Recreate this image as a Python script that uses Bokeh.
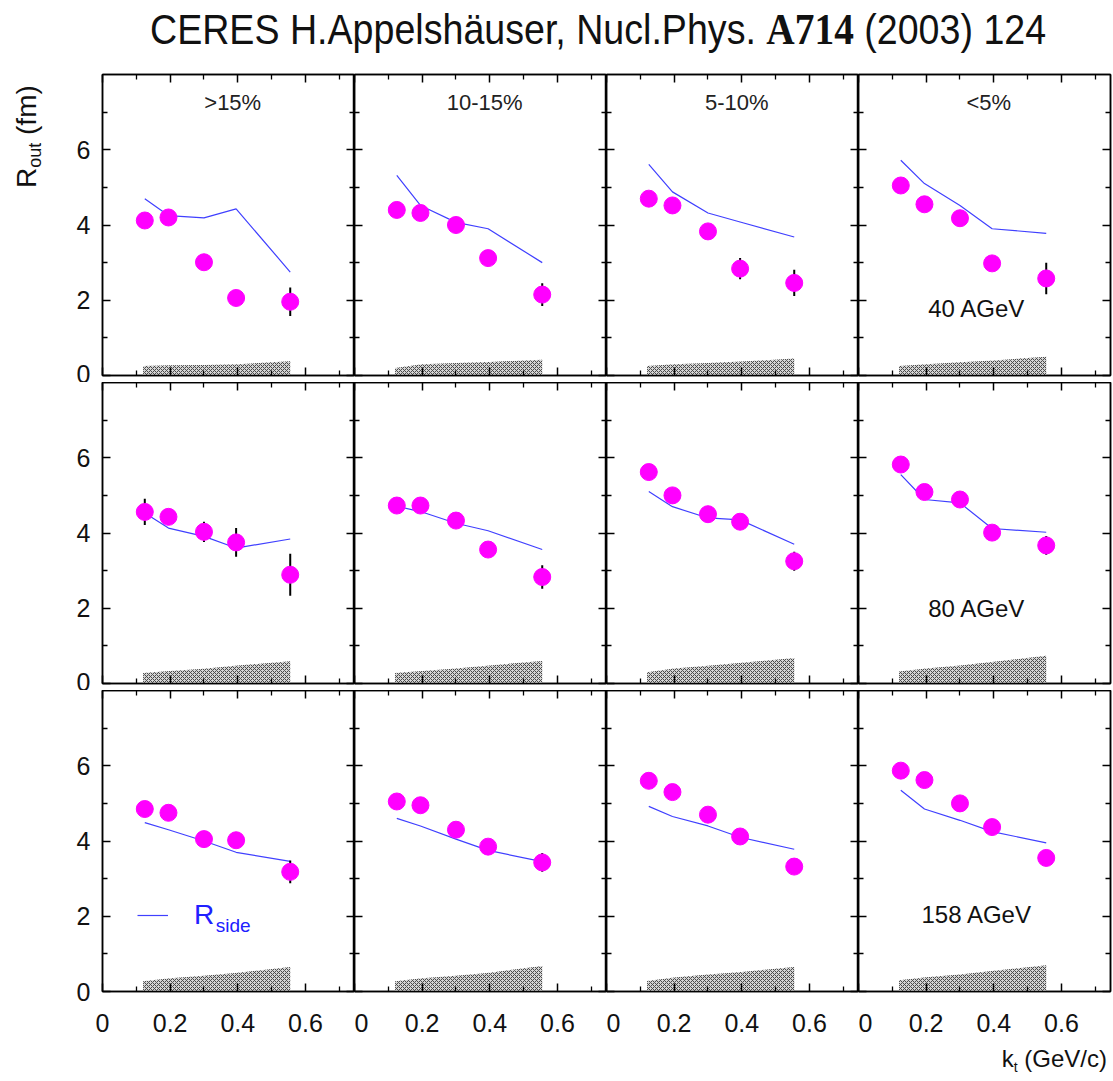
from bokeh.plotting import figure
from bokeh.layouts import gridplot, column, row
from bokeh.models import (Range1d, LinearAxis, FixedTicker, Label, Legend,
                          LegendItem, Div, NumeralTickFormatter,
                          CustomLabelingPolicy)
from bokeh.embed import file_html
from bokeh.resources import INLINE

# ---------------- data ----------------
kt = [0.125, 0.195, 0.300, 0.395, 0.555]           # k_t (GeV/c)
centralities = [">15%", "10-15%", "5-10%", "<5%"]
energies = ["40 AGeV", "80 AGeV", "158 AGeV"]

# R_out data points (fm), one list per centrality bin
rout_40 = [[4.12, 4.20, 3.01, 2.06, 1.96],
           [4.40, 4.32, 4.00, 3.12, 2.15],
           [4.70, 4.52, 3.83, 2.84, 2.46],
           [5.05, 4.55, 4.18, 2.98, 2.58]]
rout_80 = [[4.56, 4.43, 4.03, 3.75, 2.89],
           [4.73, 4.73, 4.33, 3.56, 2.83],
           [5.62, 5.00, 4.50, 4.30, 3.25],
           [5.82, 5.09, 4.89, 4.01, 3.67]]
rout_158 = [[4.85, 4.75, 4.05, 4.02, 3.18],
            [5.05, 4.95, 4.30, 3.85, 3.43],
            [5.60, 5.30, 4.70, 4.12, 3.32],
            [5.87, 5.62, 5.00, 4.37, 3.55]]

# statistical errors on R_out (fm)
err_40 = [[0.15, 0.10, 0.10, 0.15, 0.38],
          [0.12, 0.10, 0.15, 0.20, 0.30],
          [0.10, 0.12, 0.15, 0.28, 0.35],
          [0.12, 0.12, 0.18, 0.20, 0.42]]
err_80 = [[0.35, 0.15, 0.27, 0.38, 0.56],
          [0.12, 0.12, 0.15, 0.15, 0.31],
          [0.12, 0.15, 0.15, 0.18, 0.25],
          [0.15, 0.15, 0.18, 0.15, 0.25]]
err_158 = [[0.12, 0.12, 0.12, 0.15, 0.30],
           [0.10, 0.10, 0.12, 0.12, 0.25],
           [0.10, 0.10, 0.12, 0.12, 0.20],
           [0.10, 0.10, 0.12, 0.12, 0.15]]

# R_side (fm) at the same k_t
rside_40 = [[4.70, 4.25, 4.19, 4.43, 2.75],
            [5.32, 4.52, 4.07, 3.90, 3.00],
            [5.61, 4.88, 4.32, 4.08, 3.68],
            [5.72, 5.10, 4.52, 3.90, 3.78]]
rside_80 = [[4.53, 4.13, 3.91, 3.60, 3.84],
            [4.71, 4.57, 4.26, 4.06, 3.56],
            [5.10, 4.70, 4.40, 4.35, 3.70],
            [5.55, 4.89, 4.80, 4.12, 4.02]]
rside_158 = [[4.49, 4.30, 4.00, 3.70, 3.46],
             [4.60, 4.40, 4.05, 3.75, 3.45],
             [4.92, 4.65, 4.40, 4.10, 3.78],
             [5.35, 4.85, 4.55, 4.25, 3.95]]

# systematic error bands (upper edge, fm)
band_kt = [0.12, 0.20, 0.30, 0.40, 0.555]
band_40 = [[0.25, 0.27, 0.28, 0.30, 0.38],
           [0.20, 0.30, 0.33, 0.36, 0.42],
           [0.25, 0.30, 0.33, 0.37, 0.45],
           [0.25, 0.30, 0.35, 0.40, 0.50]]
band_80 = [[0.28, 0.33, 0.39, 0.48, 0.59],
           [0.28, 0.33, 0.40, 0.48, 0.60],
           [0.30, 0.40, 0.47, 0.55, 0.68],
           [0.32, 0.40, 0.48, 0.58, 0.74]]
band_158 = [[0.27, 0.35, 0.42, 0.50, 0.65],
            [0.27, 0.35, 0.42, 0.50, 0.68],
            [0.28, 0.37, 0.45, 0.52, 0.65],
            [0.30, 0.38, 0.45, 0.55, 0.70]]

x_ticks = [0, 0.2, 0.4, 0.6]
x_minor = [0.1, 0.3, 0.5, 0.7]
y_ticks = [0, 2, 4, 6]
y_minor = [1, 3, 5, 7]

rout_all = [rout_40, rout_80, rout_158]
err_all = [err_40, err_80, err_158]
rside_all = [rside_40, rside_80, rside_158]
band_all = [band_40, band_80, band_158]

# ---------------- style ----------------
FONT = "Liberation Sans"
MAGENTA = "#ff00ff"
BLUE = "#4040ff"
FW, FH = 252, 301
GAP = 7
NO_LABELS = CustomLabelingPolicy(
    code="for (let i = 0; i < indices.size; i++) { indices.unset(i) }\nreturn indices")


def style_axis(ax, ticks, minor, labels, standoff=12):
    ax.ticker = FixedTicker(ticks=ticks, minor_ticks=minor)
    ax.major_tick_in = 8
    ax.major_tick_out = 0
    ax.minor_tick_in = 5
    ax.minor_tick_out = 0
    ax.axis_line_color = "black"
    ax.axis_line_width = 1.5
    ax.major_tick_line_color = "black"
    ax.major_tick_line_width = 1.5
    ax.minor_tick_line_color = "black"
    ax.minor_tick_line_width = 1.3
    if labels:
        ax.major_label_text_font = FONT
        ax.major_label_text_font_size = "25px"
        ax.major_label_text_color = "#111111"
        ax.major_label_standoff = standoff
    else:
        ax.major_label_text_font_size = "0px"
        ax.major_label_standoff = 0
        ax.major_label_policy = NO_LABELS


def text_label(x, y, text, size, color="#111111", align="center"):
    return Label(x=x, y=y, text=text, text_align=align, text_baseline="middle",
                 text_font=FONT, text_font_size=size, text_color=color)


rows = []
for r in range(3):
    row_figs = []
    for c in range(4):
        p = figure(x_range=Range1d(0, 0.745), y_range=Range1d(0, 8),
                   frame_width=FW, frame_height=FH,
                   output_backend="svg", toolbar_location=None,
                   min_border_left=54 if c == 0 else 0,
                   min_border_right=2 if c == 3 else 0,
                   min_border_top=2 if r == 0 else 0,
                   min_border_bottom=48 if r == 2 else GAP,
                   background_fill_color="white", border_fill_color="white")
        p.xgrid.visible = False
        p.ygrid.visible = False
        p.outline_line_color = "black"
        p.outline_line_width = 1.5
        p.outline_line_alpha = 1.0

        style_axis(p.xaxis[0], x_ticks, x_minor, r == 2, standoff=22)
        p.xaxis[0].formatter = NumeralTickFormatter(format="0.[0]")
        style_axis(p.yaxis[0], y_ticks, y_minor, c == 0, standoff=12)
        ax_top = LinearAxis()
        style_axis(ax_top, x_ticks, x_minor, False)
        p.add_layout(ax_top, "above")
        ax_right = LinearAxis()
        style_axis(ax_right, y_ticks, y_minor, False)
        p.add_layout(ax_right, "right")

        # systematic band
        p.varea(x=band_kt, y1=[0] * len(band_kt), y2=band_all[r][c],
                fill_color="#d4d4d4", fill_alpha=1.0,
                hatch_pattern="x", hatch_color="#4a4a4a",
                hatch_scale=4, hatch_weight=1.0)

        # R_side line
        side = p.line(kt, rside_all[r][c], line_color=BLUE, line_width=1.2)

        # error bars
        lo = [v - e for v, e in zip(rout_all[r][c], err_all[r][c])]
        hi = [v + e for v, e in zip(rout_all[r][c], err_all[r][c])]
        p.segment(x0=kt, y0=lo, x1=kt, y1=hi, line_color="black", line_width=2)

        # R_out points
        p.scatter(kt, rout_all[r][c], size=17, marker="circle",
                  fill_color=MAGENTA, line_color=MAGENTA)

        if r == 0:
            p.add_layout(text_label(0.385, 7.25, centralities[c], "22px", "#222222"))
        if c == 3:
            p.add_layout(text_label(0.35, [1.78, 2.0, 2.05][r], energies[r], "24px"))
        if r == 2 and c == 0:
            legend = Legend(items=[LegendItem(label="R", renderers=[side])],
                            location=(35, 59), glyph_width=31, glyph_height=34,
                            label_standoff=26, padding=0, margin=0,
                            label_text_font=FONT, label_text_font_size="28px",
                            label_text_color="#2020ff",
                            background_fill_alpha=0, border_line_alpha=0)
            p.add_layout(legend)
            p.add_layout(text_label(0.335, 1.76, "side", "19px", "#2020ff", align="left"))
        row_figs.append(p)
    rows.append(row_figs)

grid = gridplot(rows, toolbar_location=None)

title = Div(
    text=('<div style="position:absolute; left:150px; top:8px; white-space:nowrap; '
          'transform-origin:0 0; transform:scaleX(0.895); line-height:1; '
          'font-family:\'Liberation Sans\',sans-serif; font-size:42px; color:#111;">'
          'CERES H.Appelsh&auml;user, Nucl.Phys. '
          '<b style="font-family:\'Liberation Serif\',serif; font-size:44px;">A714</b>'
          ' (2003) 124</div>'),
    width=1112, height=72, margin=(0, 0, 0, 0))

ylabel = Div(
    text=('<div style="position:absolute; left:13px; top:116px; white-space:nowrap; '
          'transform-origin:0 0; transform:rotate(-90deg); line-height:1; '
          'font-family:\'Liberation Sans\',sans-serif; font-size:28px; color:#111;">'
          'R<span style="font-size:18px; position:relative; top:5px;">out</span>'
          '&nbsp;(fm)</div>'),
    width=48, height=300, margin=(0, 0, 0, 0))

xlabel = Div(
    text=('<div style="position:absolute; right:5px; top:8px; white-space:nowrap; '
          'line-height:1; font-family:\'Liberation Sans\',sans-serif; font-size:24px; '
          'color:#111;">k<span style="font-size:14px; position:relative; top:5px;">t</span>'
          '&nbsp;(GeV/c)</div>'),
    width=1112, height=40, margin=(0, 0, 0, 0))

page = column(title, row(ylabel, grid, spacing=0), xlabel, spacing=0)
open("out.html", "w").write(file_html(page, INLINE))
